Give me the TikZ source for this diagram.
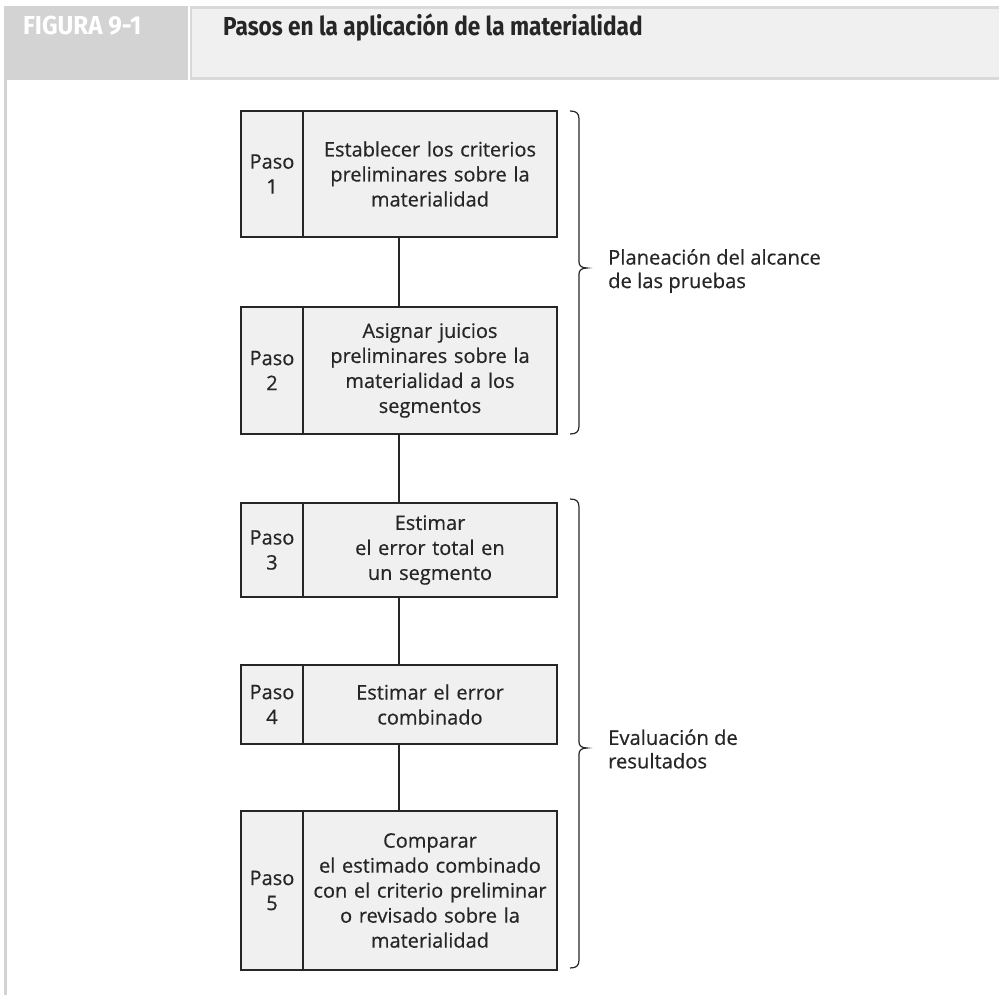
\documentclass[tikz,border=0pt]{standalone}
\usepackage{fontspec}
\setmainfont[FakeBold=0.5]{Open Sans}
\newfontfamily\tagfont[FakeStretch=0.93]{Fira Sans}
\newfontfamily\headfont[FakeStretch=0.87]{Fira Sans}
\usetikzlibrary{positioning,fit}

\definecolor{tabgray}{HTML}{D3D3D3}
\definecolor{bandfill}{HTML}{F0F0F0}
\definecolor{bandline}{HTML}{D9D9D9}
\definecolor{boxfill}{HTML}{F0F0F0}
\definecolor{ink}{HTML}{262626}

\begin{document}
\begin{tikzpicture}[x=1pt,y=-1pt,
  every node/.style={font=\fontsize{20}{25}\selectfont, text=ink},
  cellbox/.style={draw=ink, fill=boxfill, line width=1.4pt, inner sep=4pt, outer sep=0pt, align=center},
  pasocell/.style={cellbox, text width=54pt},
  textcell/.style={cellbox, text width=246pt},
  link/.style={draw=ink, line width=1.3pt},
  bracket/.style={draw=ink, line width=1.2pt},
  sidelabel/.style={anchor=west, align=left, inner sep=2pt, font=\fontsize{20.2}{23.5}\selectfont}]
  \useasboundingbox (0,0) rectangle (999,995);

  % header band
  \fill[tabgray] (4,6) rectangle (188,80);
  \draw[bandline, fill=bandfill, line width=2.5pt] (191,7.3) rectangle (1004,78.7);
  \draw[tabgray, line width=2.5pt] (5.5,80) -- (5.5,995);
  \node[font=\tagfont\bfseries\fontsize{26}{30}\selectfont, text=white, anchor=base west, inner sep=0pt] (tag) at (23,35) {FIGURA 9-1};
  \node[font=\headfont\bfseries\fontsize{26}{30}\selectfont, text=ink, anchor=base west, inner sep=0pt] (title) at (223,36) {Pasos en la aplicación de la materialidad};

  % steps
  \node[pasocell, minimum height=126pt] (p1) at (272,174) {Paso\\1};
  \node[textcell, minimum height=126pt, right=0pt of p1] (t1) {Establecer los criterios\\preliminares sobre la\\materialidad};
  \node[pasocell, minimum height=127pt] (p2) at (272,370.5) {Paso\\2};
  \node[textcell, minimum height=127pt, right=0pt of p2] (t2) {Asignar juicios\\preliminares sobre la\\materialidad a los\\segmentos};
  \node[pasocell, minimum height=94pt] (p3) at (272,550) {Paso\\3};
  \node[textcell, minimum height=94pt, right=0pt of p3] (t3) {Estimar\\el error total en\\un segmento};
  \node[pasocell, minimum height=79pt] (p4) at (272,704.5) {Paso\\4};
  \node[textcell, minimum height=79pt, right=0pt of p4] (t4) {Estimar el error\\combinado};
  \node[pasocell, minimum height=159pt] (p5) at (272,890.5) {Paso\\5};
  \node[textcell, minimum height=159pt, right=0pt of p5] (t5) {Comparar\\el estimado combinado\\con el criterio preliminar\\o revisado sobre la\\materialidad};

  \foreach \n in {1,...,5}
    \node[fit=(p\n)(t\n), inner sep=0pt] (b\n) {};

  \draw[link] (b1.south) -- (b2.north);
  \draw[link] (b2.south) -- (b3.north);
  \draw[link] (b3.south) -- (b4.north);
  \draw[link] (b4.south) -- (b5.north);

  % braces
  \coordinate (tip1) at (587,268);
  \coordinate (tip2) at (587,748);
  \draw[bracket] (570,111) .. controls (576,111) and (579,113) .. (579,119) -- (579,262)
    .. controls (579,266) and (582,268) .. (tip1) .. controls (582,268) and (579,270) .. (579,274)
    -- (579,426) .. controls (579,432) and (576,434) .. (570,434);
  \draw[bracket] (570,499) .. controls (576,499) and (579,501) .. (579,507) -- (579,742)
    .. controls (579,746) and (582,748) .. (tip2) .. controls (582,748) and (579,750) .. (579,754)
    -- (579,960) .. controls (579,966) and (576,968) .. (570,968);
  \node[sidelabel] (plan) at ([xshift=19pt,yshift=-3pt]tip1) {Planeación del alcance\\de las pruebas};
  \node[sidelabel] (eval) at ([xshift=19pt,yshift=-1pt]tip2) {Evaluación de\\resultados};
\end{tikzpicture}
\end{document}
